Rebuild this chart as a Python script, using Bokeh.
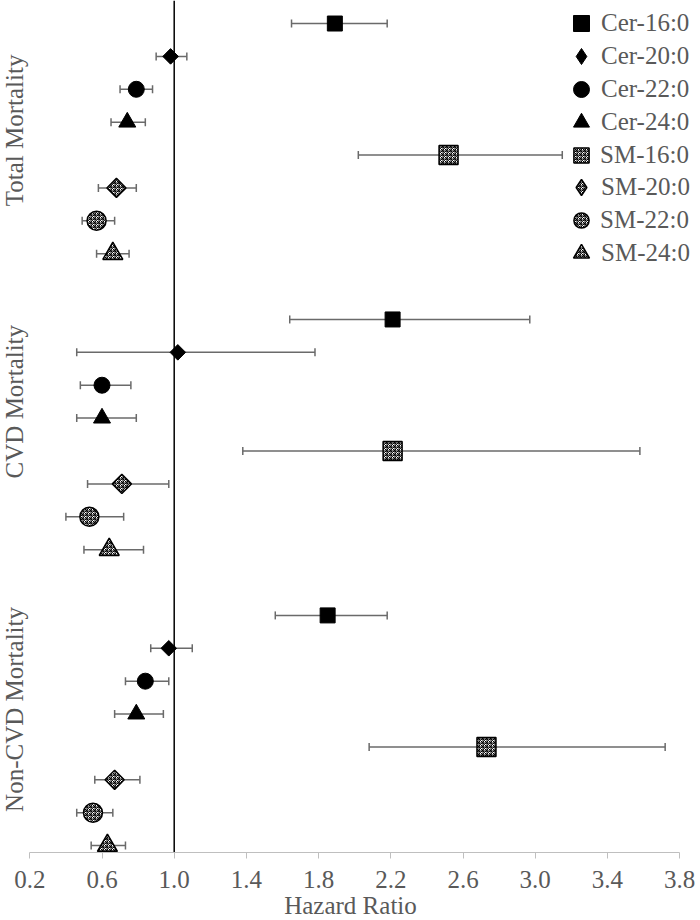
from math import pi
from bokeh.plotting import figure
from bokeh.models import (ColumnDataSource, Range1d, FixedTicker, Span, Whisker, TeeHead,
                          Label, Legend, LegendItem)
from bokeh.embed import file_html
from bokeh.resources import INLINE

# ---------------- data ----------------
groups = ["Total Mortality", "CVD Mortality", "Non-CVD Mortality"]
series = ["Cer-16:0", "Cer-20:0", "Cer-22:0", "Cer-24:0",
          "SM-16:0", "SM-20:0", "SM-22:0", "SM-24:0"]

# hazard ratios (rows = series order) for each outcome
hr_total = [1.89, 0.98, 0.79, 0.74, 2.52, 0.68, 0.57, 0.66]
lo_total = [1.65, 0.90, 0.70, 0.65, 2.02, 0.58, 0.49, 0.57]
hi_total = [2.18, 1.07, 0.88, 0.84, 3.15, 0.79, 0.67, 0.75]

hr_cvd = [2.21, 1.02, 0.60, 0.60, 2.21, 0.71, 0.53, 0.64]
lo_cvd = [1.64, 0.46, 0.48, 0.46, 1.38, 0.52, 0.40, 0.50]
hi_cvd = [2.97, 1.78, 0.76, 0.79, 3.58, 0.97, 0.72, 0.83]

hr_noncvd = [1.85, 0.97, 0.84, 0.79, 2.73, 0.67, 0.55, 0.63]
lo_noncvd = [1.56, 0.87, 0.73, 0.67, 2.08, 0.56, 0.46, 0.54]
hi_noncvd = [2.18, 1.10, 0.97, 0.94, 3.72, 0.81, 0.66, 0.73]

xticks = [0.2, 0.6, 1.0, 1.4, 1.8, 2.2, 2.6, 3.0, 3.4, 3.8]
xtick_labels = ["0.2", "0.6", "1.0", "1.4", "1.8", "2.2", "2.6", "3.0", "3.4", "3.8"]

hr_all = [hr_total, hr_cvd, hr_noncvd]
lo_all = [lo_total, lo_cvd, lo_noncvd]
hi_all = [hi_total, hi_cvd, hi_noncvd]

# ---------------- styles / layout ----------------
FONT = "Liberation Serif"
GREY = "#595959"
EB = "#6a6a6a"
AXIS = "#BFBFBF"
FS = "25px"

styles = {
    "Cer-16:0": dict(marker="square", size=15, angle=0, checker=False, box=40, leg_marker="square"),
    "Cer-20:0": dict(marker="square", size=11, angle=pi / 4, checker=False, box=40, leg_marker="diamond"),
    "Cer-22:0": dict(marker="circle", size=16, angle=0, checker=False, box=40, leg_marker="circle"),
    "Cer-24:0": dict(marker="triangle", size=17, angle=0, checker=False, box=40, leg_marker="triangle"),
    "SM-16:0": dict(marker="square", size=19, angle=0, checker=True, box=38, leg_marker="square"),
    "SM-20:0": dict(marker="square", size=13.5, angle=pi / 4, checker=True, box=40, leg_marker="diamond"),
    "SM-22:0": dict(marker="circle", size=19, angle=0, checker=True, box=38, leg_marker="circle"),
    "SM-24:0": dict(marker="triangle", size=20, angle=0, checker=True, box=40, leg_marker="triangle"),
}

rows_per_group = len(series) + 1
last_row = len(groups) * rows_per_group - 2
Y_TOP = -0.70
Y_BOT = last_row + 0.21
FRAME_W = 700
FRAME_H = 852
PX_PER_UNIT = 180.5
X0_PX = 29.3                      # pixel of the first tick
X_START = xticks[0] - X0_PX / PX_PER_UNIT
X_END = xticks[0] + (FRAME_W - X0_PX) / PX_PER_UNIT

p = figure(frame_width=FRAME_W, frame_height=FRAME_H,
           x_range=Range1d(X_START, X_END), y_range=Range1d(Y_BOT, Y_TOP),
           output_backend="svg", toolbar_location=None,
           min_border_left=0, min_border_right=0, min_border_top=0, min_border_bottom=0)
p.grid.visible = False
p.outline_line_color = None
p.yaxis.visible = False
p.background_fill_color = "white"
p.border_fill_color = "white"

# reference line at HR = 1
p.add_layout(Span(location=1.0, dimension="height", line_color="black",
                  line_width=1.5, level="underlay"))

# error bars
wx, wy, wlo, whi = [], [], [], []
for g in range(len(groups)):
    for s in range(len(series)):
        wy.append(g * rows_per_group + s)
        wx.append(hr_all[g][s])
        wlo.append(lo_all[g][s])
        whi.append(hi_all[g][s])
wsrc = ColumnDataSource(dict(x=wx, y=wy, lo=wlo, hi=whi))
p.add_layout(Whisker(source=wsrc, base="y", lower="lo", upper="hi", dimension="width",
                     line_color=EB, line_width=1.5, level="underlay",
                     upper_head=TeeHead(size=8, line_color=EB, line_width=1.5),
                     lower_head=TeeHead(size=8, line_color=EB, line_width=1.5)))


def marker_kw(st):
    if st["checker"]:
        return dict(fill_color="white", line_color="black", line_width=1.5,
                    hatch_pattern="criss_cross", hatch_color="black",
                    hatch_scale=4, hatch_weight=1.0)
    return dict(fill_color="black", line_color="black", line_width=1)


# markers
renderers = []
legend_renderers = []
for s, name in enumerate(series):
    st = styles[name]
    src = ColumnDataSource(dict(
        x=[hr_all[g][s] for g in range(len(groups))],
        y=[g * rows_per_group + s for g in range(len(groups))],
    ))
    r = p.scatter("x", "y", source=src, marker=st["marker"], size=st["size"],
                  angle=st["angle"], **marker_kw(st))
    renderers.append(r)
    if st["leg_marker"] != st["marker"]:
        # swatch-only glyph for the legend (NaN point is never drawn in the plot)
        lsrc = ColumnDataSource(dict(x=[float("nan")], y=[float("nan")]))
        lr = p.scatter("x", "y", source=lsrc, marker=st["leg_marker"], size=st["size"],
                       **marker_kw(st))
        legend_renderers.append(lr)
    else:
        legend_renderers.append(r)

# legend (one entry per series, aligned with the first block's rows)
GLYPH_CX = 581
TEXT_X = 594
span_rows = Y_BOT - Y_TOP
for i, name in enumerate(series):
    gb = styles[name]["box"]
    py = (i - Y_TOP) / span_rows * FRAME_H
    ly = FRAME_H - py - gb / 2
    lx = GLYPH_CX - gb / 2
    standoff = int(round(TEXT_X - (lx + gb)))
    leg = Legend(items=[LegendItem(label=name, renderers=[legend_renderers[i]])],
                 location=(lx, ly), glyph_width=gb, glyph_height=gb,
                 label_standoff=standoff, padding=0, margin=0, spacing=0,
                 border_line_color=None, background_fill_alpha=0,
                 label_text_font=FONT, label_text_font_size=FS, label_text_color=GREY)
    p.add_layout(leg)

# group labels on the left
label_shift = [-0.25, -1.0, -0.64]
for g, name in enumerate(groups):
    center = g * rows_per_group + (len(series) - 1) / 2 + label_shift[g]
    p.add_layout(Label(x=14, x_units="screen", y=center, y_units="data", text=name,
                       angle=pi / 2, text_align="center", text_baseline="middle",
                       text_font=FONT, text_font_size=FS, text_color=GREY))

# x axis
ax = p.xaxis[0]
ax.bounds = (xticks[0], xticks[-1])
ax.ticker = FixedTicker(ticks=xticks)
ax.major_label_overrides = {t: l for t, l in zip(xticks, xtick_labels)}
ax.axis_label = "Hazard Ratio"
ax.axis_label_text_font = FONT
ax.axis_label_text_font_style = "normal"
ax.axis_label_text_font_size = FS
ax.axis_label_text_color = GREY
ax.axis_label_standoff = 1
ax.major_label_text_font = FONT
ax.major_label_text_font_size = FS
ax.major_label_text_color = GREY
ax.major_label_standoff = 12
ax.axis_line_color = AXIS
ax.major_tick_line_color = AXIS
ax.major_tick_out = 6
ax.major_tick_in = 0
ax.minor_tick_line_color = None

open("out.html", "w").write(file_html(p, INLINE))
